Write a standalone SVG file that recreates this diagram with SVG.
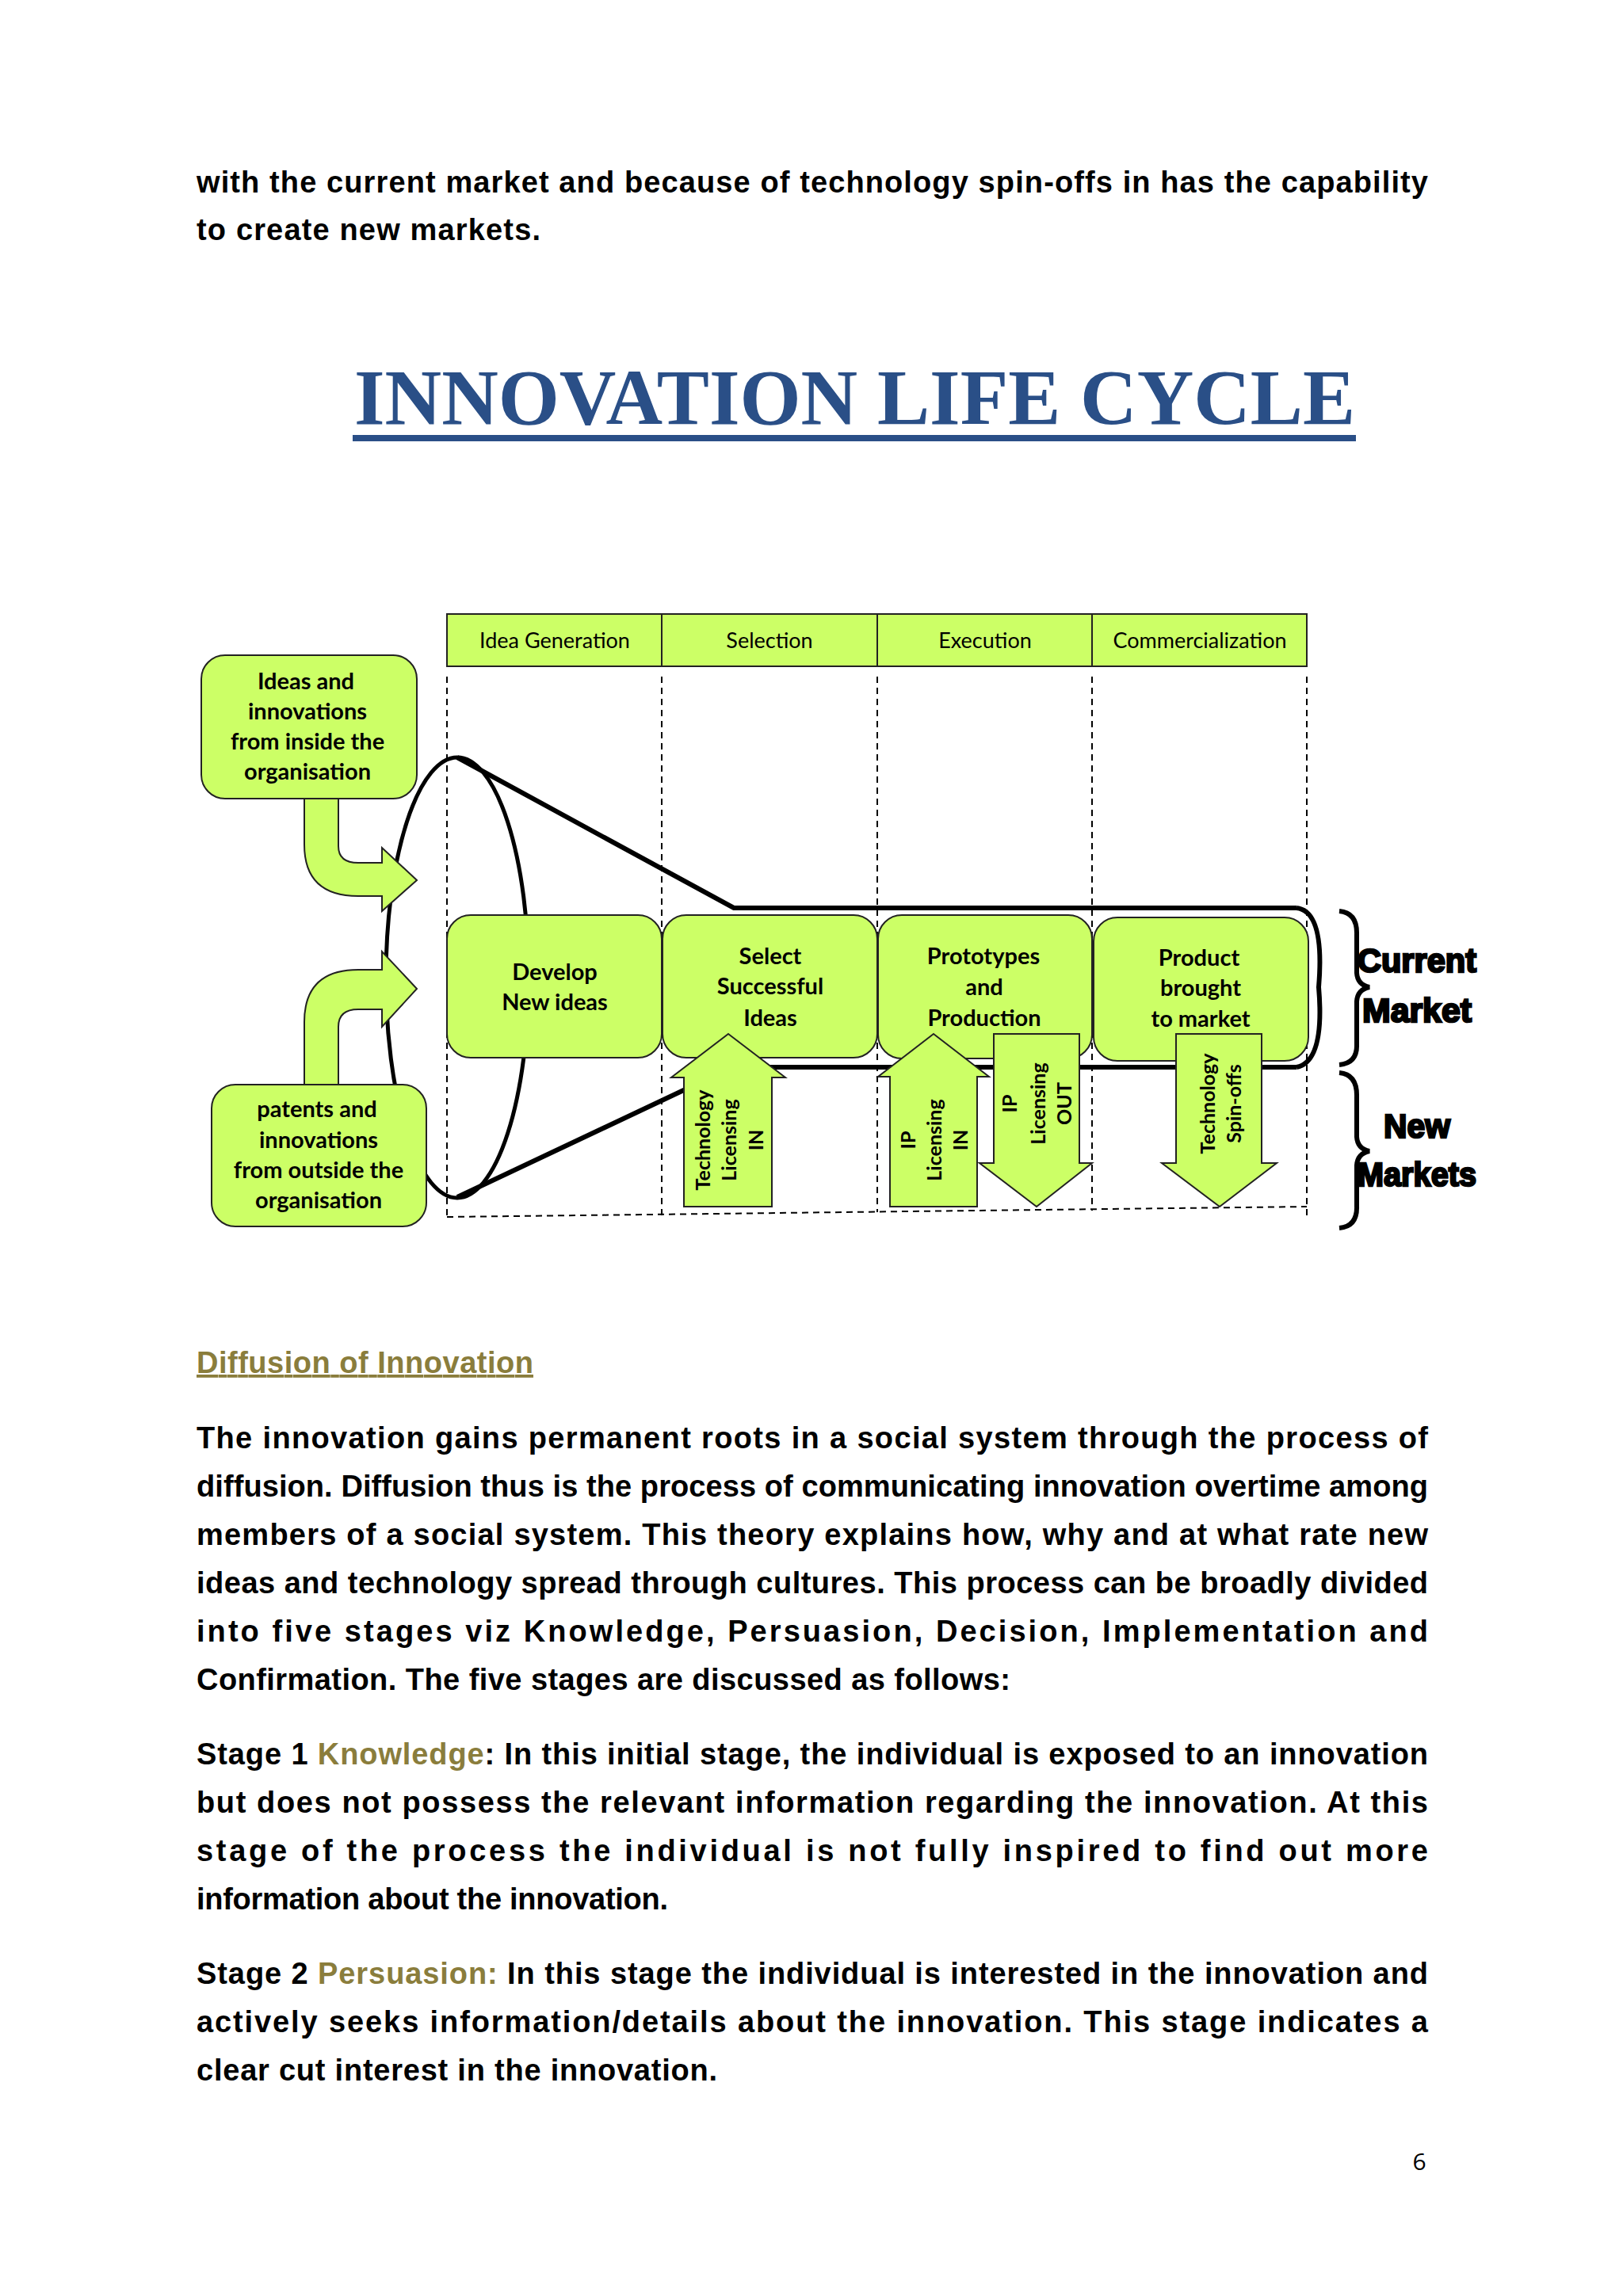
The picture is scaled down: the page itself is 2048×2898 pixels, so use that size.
<svg xmlns="http://www.w3.org/2000/svg" width="2048" height="2898" viewBox="0 0 2048 2898">
<style>
.body{font-family:"Liberation Sans",Arial,sans-serif;font-weight:bold;font-size:38px;fill:#000}
.ol{fill:#8a7d3c}
.g{fill:#ccff66;stroke:#222;stroke-width:2}
.bt{font-family:Lato,"Open Sans",sans-serif;font-weight:bold;font-size:29px;fill:#000;text-anchor:middle}
.ht{font-family:Lato,"Open Sans",sans-serif;font-size:27px;fill:#000;text-anchor:middle}
.at{font-family:Lato,"Open Sans",sans-serif;font-weight:bold;font-size:25px;fill:#000;text-anchor:middle}
.mk{font-family:"Liberation Sans",Arial,sans-serif;font-weight:bold;font-size:42px;fill:#000;stroke:#000;stroke-width:2.5}
.dash{stroke:#000;stroke-width:2;stroke-dasharray:8 6;fill:none}
.thick{stroke:#000;stroke-width:6;fill:none}
</style>
<rect width="2048" height="2898" fill="#fff"/>
<text class="body" x="248" y="243" textLength="1554" lengthAdjust="spacing">with the current market and because of technology spin-offs in has the capability</text>
<text class="body" x="248" y="303" textLength="434" lengthAdjust="spacing">to create new markets.</text>
<text x="447" y="535" textLength="1263" lengthAdjust="spacingAndGlyphs" font-family="'Liberation Serif',serif" font-weight="bold" font-size="100" fill="#2a4f87">INNOVATION LIFE CYCLE</text>
<rect x="445" y="549" width="1266" height="8" fill="#2a4f87"/>

<g id="connectors">
<line class="dash" x1="564" y1="854" x2="564" y2="1536"/>
<line class="dash" x1="835" y1="854" x2="835" y2="1534"/>
<line class="dash" x1="1107" y1="854" x2="1107" y2="1530"/>
<line class="dash" x1="1378" y1="854" x2="1378" y2="1528"/>
<line class="dash" x1="1649" y1="854" x2="1649" y2="1534"/>
<line class="dash" x1="564" y1="1536" x2="1649" y2="1523"/>
<ellipse cx="577" cy="1234" rx="90" ry="278" fill="none" stroke="#000" stroke-width="5"/>
<polyline class="thick" points="577,956 926,1146 1636,1146"/>
<polyline class="thick" points="577,1511 924,1347 1636,1347"/>
<path class="thick" d="M1636,1146 Q1672,1150 1664,1246 Q1672,1340 1636,1347" stroke-width="5"/>
<path d="M384,1008 L427,1008 L427,1068 Q427,1089 452,1089 L482,1089 L482,1070 L526,1111 L482,1150 L482,1131 L452,1131 Q384,1131 384,1066 Z" class="g"/>
<path d="M384,1369 L427,1369 L427,1296 Q427,1274 452,1274 L482,1274 L482,1296 L526,1248 L482,1201 L482,1224 L452,1224 Q384,1224 384,1290 Z" class="g"/>
<path d="M1690,1150 Q1713,1152 1712,1180 L1712,1228 Q1713,1243 1728,1246 Q1713,1249 1712,1264 L1712,1318 Q1713,1342 1690,1344" fill="none" stroke="#000" stroke-width="6"/>
<path d="M1690,1354 Q1713,1356 1712,1385 L1712,1435 Q1713,1450 1728,1453 Q1713,1456 1712,1471 L1712,1522 Q1713,1548 1690,1550" fill="none" stroke="#000" stroke-width="6"/>
</g>

<g id="header">
<rect class="g" x="564" y="775" width="271" height="66"/>
<rect class="g" x="835" y="775" width="272" height="66"/>
<rect class="g" x="1107" y="775" width="271" height="66"/>
<rect class="g" x="1378" y="775" width="271" height="66"/>
<text class="ht" x="700" y="818">Idea Generation</text>
<text class="ht" x="971" y="818">Selection</text>
<text class="ht" x="1243" y="818">Execution</text>
<text class="ht" x="1514" y="818">Commercialization</text>
</g>

<g id="inside">
<rect class="g" x="254" y="827" width="272" height="181" rx="30"/>
<text class="bt" x="386" y="870">Ideas and</text>
<text class="bt" x="388" y="908">innovations</text>
<text class="bt" x="388" y="946">from inside the</text>
<text class="bt" x="388" y="984">organisation</text>
</g>
<g id="outside">
<rect class="g" x="267" y="1369" width="271" height="179" rx="30"/>
<text class="bt" x="400" y="1410">patents and</text>
<text class="bt" x="402" y="1449">innovations</text>
<text class="bt" x="402" y="1487">from outside the</text>
<text class="bt" x="402" y="1525">organisation</text>
</g>
<g id="develop">
<rect class="g" x="564" y="1155" width="271" height="180" rx="30"/>
<text class="bt" x="700" y="1237">Develop</text>
<text class="bt" x="700" y="1275">New ideas</text>
</g>
<g id="select">
<rect class="g" x="836" y="1155" width="271" height="180" rx="30"/>
<text class="bt" x="972" y="1217">Select</text>
<text class="bt" x="972" y="1255">Successful</text>
<text class="bt" x="972" y="1295">Ideas</text>
</g>
<g id="prototypes">
<rect class="g" x="1108" y="1155" width="270" height="181" rx="30"/>
<text class="bt" x="1241" y="1217">Prototypes</text>
<text class="bt" x="1242" y="1256">and</text>
<text class="bt" x="1242" y="1295">Production</text>
</g>
<g id="product">
<rect class="g" x="1380" y="1158" width="271" height="181" rx="30"/>
<text class="bt" x="1513" y="1219">Product</text>
<text class="bt" x="1515" y="1257">brought</text>
<text class="bt" x="1515" y="1296">to market</text>
</g>

<g id="tech-in">
<polygon class="g" points="919,1305 991,1360 974,1360 974,1523 863,1523 863,1360 847,1360"/>
<g transform="translate(920,1439) rotate(-90)">
<text class="at" x="0" y="-24">Technology</text>
<text class="at" x="0" y="9">Licensing</text>
<text class="at" x="0" y="43">IN</text>
</g>
</g>
<g id="ip-in">
<polygon class="g" points="1178,1305 1248,1359 1233,1359 1233,1523 1123,1523 1123,1359 1108,1359"/>
<g transform="translate(1179,1439) rotate(-90)">
<text class="at" x="0" y="-24">IP</text>
<text class="at" x="0" y="9">Licensing</text>
<text class="at" x="0" y="42">IN</text>
</g>
</g>
<g id="ip-out">
<polygon class="g" points="1254,1305 1362,1305 1362,1468 1378,1468 1308,1523 1236,1468 1254,1468"/>
<g transform="translate(1310,1393) rotate(-90)">
<text class="at" x="0" y="-27">IP</text>
<text class="at" x="0" y="9">Licensing</text>
<text class="at" x="0" y="42">OUT</text>
</g>
</g>
<g id="spinoffs">
<polygon class="g" points="1484,1305 1592,1305 1592,1468 1611,1468 1539,1523 1466,1468 1484,1468"/>
<g transform="translate(1541,1393) rotate(-90)">
<text class="at" x="0" y="-8">Technology</text>
<text class="at" x="0" y="25">Spin-offs</text>
</g>
</g>
<g id="markets">
<text class="mk" x="1713" y="1227" textLength="150" lengthAdjust="spacingAndGlyphs">Current</text>
<text class="mk" x="1719" y="1290" textLength="138" lengthAdjust="spacingAndGlyphs">Market</text>
<text class="mk" x="1746" y="1436" textLength="84" lengthAdjust="spacingAndGlyphs">New</text>
<text class="mk" x="1713" y="1497" textLength="150" lengthAdjust="spacingAndGlyphs">Markets</text>
</g>

<text class="body ol" x="248" y="1733" textLength="425" lengthAdjust="spacing" text-decoration="underline">Diffusion of Innovation</text>
<text class="body" x="248" y="1828" textLength="1554" lengthAdjust="spacing">The innovation gains permanent roots in a social system through the process of</text>
<text class="body" x="248" y="1889" textLength="1554" lengthAdjust="spacing">diffusion. Diffusion thus is the process of communicating innovation overtime among</text>
<text class="body" x="248" y="1950" textLength="1554" lengthAdjust="spacing">members of a social system. This theory explains how, why and at what rate new</text>
<text class="body" x="248" y="2011" textLength="1554" lengthAdjust="spacing">ideas and technology spread through cultures. This process can be broadly divided</text>
<text class="body" x="248" y="2072" textLength="1554" lengthAdjust="spacing">into five stages viz Knowledge, Persuasion, Decision, Implementation and</text>
<text class="body" x="248" y="2133" textLength="1027" lengthAdjust="spacing">Confirmation. The five stages are discussed as follows:</text>
<text class="body" x="248" y="2227" textLength="1554" lengthAdjust="spacing">Stage 1 <tspan class="ol">Knowledge</tspan>: In this initial stage, the individual is exposed to an innovation</text>
<text class="body" x="248" y="2288" textLength="1554" lengthAdjust="spacing">but does not possess the relevant information regarding the innovation. At this</text>
<text class="body" x="248" y="2349" textLength="1554" lengthAdjust="spacing">stage of the process the individual is not fully inspired to find out more</text>
<text class="body" x="248" y="2410" textLength="595" lengthAdjust="spacing">information about the innovation.</text>
<text class="body" x="248" y="2504" textLength="1554" lengthAdjust="spacing">Stage 2 <tspan class="ol">Persuasion:</tspan> In this stage the individual is interested in the innovation and</text>
<text class="body" x="248" y="2565" textLength="1554" lengthAdjust="spacing">actively seeks information/details about the innovation. This stage indicates a</text>
<text class="body" x="248" y="2626" textLength="657" lengthAdjust="spacing">clear cut interest in the innovation.</text>
<text x="1791" y="2739" font-family="'Open Sans',sans-serif" font-size="30" fill="#000" text-anchor="middle">6</text>
</svg>
